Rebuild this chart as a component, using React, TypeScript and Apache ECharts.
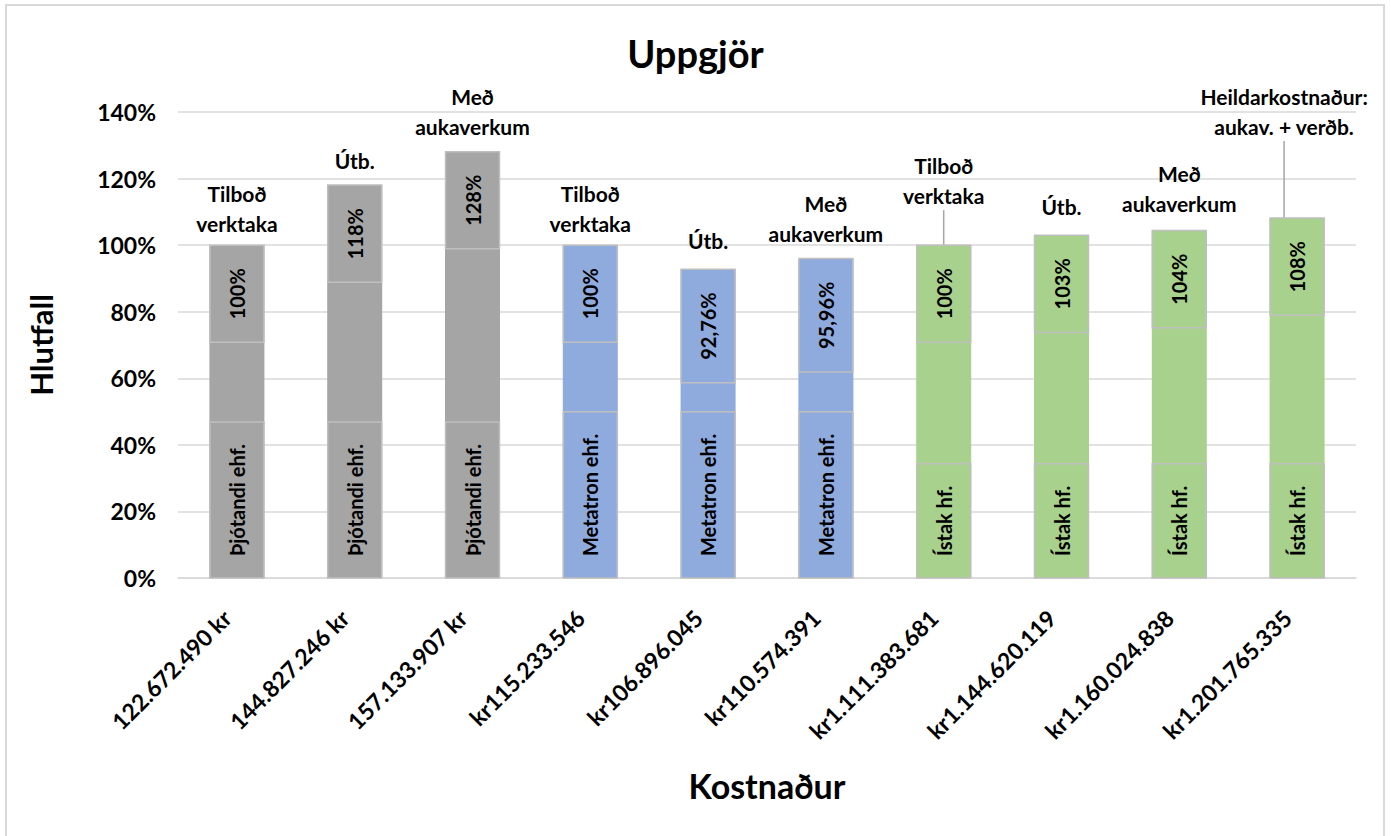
import React, { useEffect, useRef } from "react";
import * as echarts from "echarts";

const categories = [
  "122.672.490 kr",
  "144.827.246 kr",
  "157.133.907 kr",
  "kr115.233.546",
  "kr106.896.045",
  "kr110.574.391",
  "kr1.111.383.681",
  "kr1.144.620.119",
  "kr1.160.024.838",
  "kr1.201.765.335",
];
const values = [100, 118.06, 128.09, 100, 92.76, 95.96, 100, 102.99, 104.38, 108.13];
const valueLabels = ["100%", "118%", "128%", "100%", "92,76%", "95,96%", "100%", "103%", "104%", "108%"];
const companies = [
  "Þjótandi ehf.", "Þjótandi ehf.", "Þjótandi ehf.",
  "Metatron ehf.", "Metatron ehf.", "Metatron ehf.",
  "Ístak hf.", "Ístak hf.", "Ístak hf.", "Ístak hf.",
];
const stages = [
  "Tilboð\nverktaka", "Útb.", "Með\naukaverkum",
  "Tilboð\nverktaka", "Útb.", "Með\naukaverkum",
  "Tilboð\nverktaka", "Útb.", "Með\naukaverkum",
  "Heildarkostnaður:\naukav. + verðb.",
];
const yTicks = [0, 20, 40, 60, 80, 100, 120, 140];

// styling (not data)
const groupColors = [
  "#A5A5A5", "#A5A5A5", "#A5A5A5",
  "#8FAADC", "#8FAADC", "#8FAADC",
  "#A9D18E", "#A9D18E", "#A9D18E", "#A9D18E",
];
const stageDistance = [7, 10, 10, 7, 14, 10, 7, 14, 12, 8];
const stageShift = [
  [0, 0], [0, 0], [0, 0], [0, 0], [0, 0], [0, 0],
  [0, -28], [0, 0], [0, 0], [-13, -69],
];

const FONT = "Lato, 'Open Sans', sans-serif";

export default function App() {
  const ref = useRef<HTMLDivElement>(null);
  useEffect(() => {
    if (!ref.current) return;
    const chart = echarts.init(ref.current, undefined, { renderer: "svg" });
    const boxStyle = {
      borderColor: "#BFBFBF",
      borderWidth: 1.5,
    };
    chart.setOption({
      animation: false,
      backgroundColor: "#ffffff",
      textStyle: { fontFamily: FONT },
      title: {
        text: "Uppgjör",
        left: "center",
        top: 29,
        textStyle: { fontFamily: FONT, fontSize: 38, fontWeight: "bold", color: "#000" },
      },
      graphic: [
        {
          type: "rect",
          shape: { x: 6, y: 5, width: 1378, height: 860 },
          style: { fill: "none", stroke: "#D9D9D9", lineWidth: 2 },
          silent: true,
        },
      ],
      grid: { left: 178, right: 35, top: 112, bottom: 258, containLabel: false },
      xAxis: {
        type: "category",
        data: categories,
        name: "Kostnaður",
        nameLocation: "middle",
        nameGap: 190,
        nameTextStyle: { fontFamily: FONT, fontSize: 34, fontWeight: "bold", color: "#000" },
        axisLine: { lineStyle: { color: "#D9D9D9", width: 1.5 } },
        axisTick: { show: false },
        axisLabel: {
          rotate: 45,
          interval: 0,
          margin: 26,
          padding: [0, 14, 0, 0],
          fontFamily: FONT,
          fontSize: 23,
          fontWeight: "bold",
          color: "#000",
        },
      },
      yAxis: {
        type: "value",
        min: yTicks[0],
        max: yTicks[yTicks.length - 1],
        interval: 20,
        name: "Hlutfall",
        nameLocation: "middle",
        nameGap: 122,
        nameTextStyle: { fontFamily: FONT, fontSize: 31, fontWeight: "bold", color: "#000" },
        axisLine: { show: false },
        axisTick: { show: false },
        splitLine: { lineStyle: { color: "#D9D9D9", width: 1.5 } },
        axisLabel: {
          formatter: "{value}%",
          margin: 22,
          fontFamily: FONT,
          fontSize: 23,
          fontWeight: "bold",
          color: "#000",
        },
      },
      series: [
        {
          type: "bar",
          barWidth: 55,
          barGap: "-100%",
          data: values.map((v, i) => ({
            value: v,
            itemStyle: { color: groupColors[i] },
          })),
          label: {
            show: true,
            position: "insideTop",
            distance: 0,
            rotate: 90,
            align: "right",
            verticalAlign: "middle",
            formatter: (p: any) => valueLabels[p.dataIndex],
            fontFamily: FONT,
            fontSize: 20,
            fontWeight: "bold",
            color: "#000",
            lineHeight: 22,
            padding: [16, 23, 16, 23],
            ...boxStyle,
          },
        },
        {
          type: "bar",
          barWidth: 55,
          barGap: "-100%",
          itemStyle: { color: "rgba(0,0,0,0)" },
          data: values,
          label: {
            show: true,
            position: "insideBottom",
            distance: 0,
            rotate: 90,
            align: "left",
            verticalAlign: "middle",
            formatter: (p: any) => companies[p.dataIndex],
            fontFamily: FONT,
            fontSize: 20,
            fontWeight: "bold",
            color: "#000",
            lineHeight: 22,
            padding: [16, 22, 16, 22],
            ...boxStyle,
          },
        },
        {
          type: "bar",
          barWidth: 55,
          barGap: "-100%",
          itemStyle: { color: "rgba(0,0,0,0)" },
          data: values.map((v, i) => ({
            value: v,
            label: { distance: stageDistance[i] },
            labelLine: { show: stageShift[i][1] !== 0 },
          })),
          label: {
            show: true,
            position: "top",
            formatter: (p: any) => stages[p.dataIndex],
            fontFamily: FONT,
            fontSize: 21,
            fontWeight: "bold",
            color: "#000",
            lineHeight: 30,
            align: "center",
          },
          labelLine: {
            lineStyle: { color: "#A6A6A6", width: 1.5 },
          },
          labelLayout: (p: any) => ({
            dx: stageShift[p.dataIndex][0],
            dy: stageShift[p.dataIndex][1],
          }),
        },
      ],
    });
    return () => chart.dispose();
  }, []);
  return (
    <div
      ref={ref}
      style={{ position: "absolute", left: 0, top: 0, width: 1391, height: 836 }}
    />
  );
}
